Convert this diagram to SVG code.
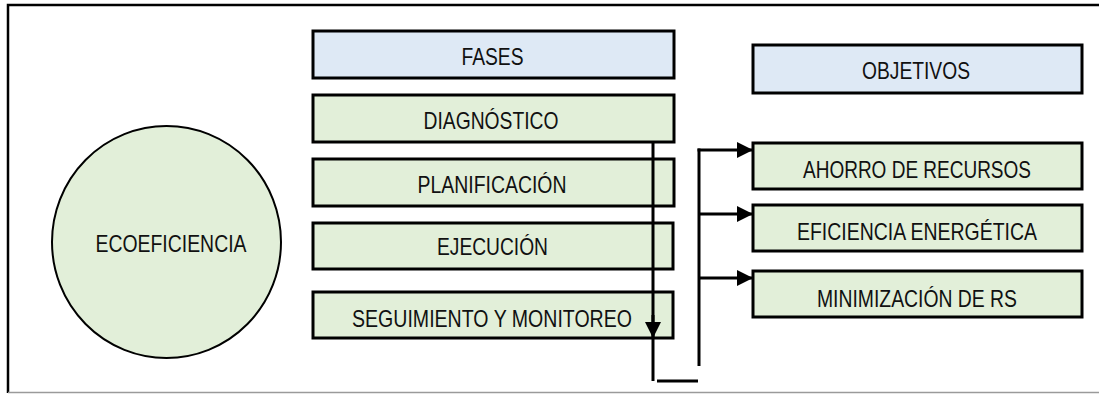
<svg xmlns="http://www.w3.org/2000/svg" width="1099" height="394" viewBox="0 0 1099 394">
<style>
.hdr{fill:#DEE9F5;stroke:#000;stroke-width:3}
.box{fill:#E2EFD9;stroke:#000;stroke-width:3}
.lbl{font-family:"Liberation Sans Narrow","Liberation Sans",Arial,sans-serif;font-size:24px;fill:#111;text-anchor:middle}
.con{fill:none;stroke:#000;stroke-width:3;stroke-linecap:butt}
</style>
<defs>
<marker id="ah" markerUnits="userSpaceOnUse" markerWidth="17" markerHeight="17" refX="16" refY="8" orient="auto">
<path d="M0,0 L16,8 L0,16 z" fill="#000"/>
</marker>
</defs>
<rect width="1099" height="394" fill="#fff"/>
<g id="frame">
<path d="M8,393 V5 H1099" fill="none" stroke="#000" stroke-width="2.5"/>
<path d="M8,392.5 H1099" fill="none" stroke="#9a9a9a" stroke-width="1.5"/>
</g>
<g id="ecoeficiencia">
<ellipse cx="166.5" cy="242" rx="114.5" ry="116" fill="#E2EFD9" stroke="#000" stroke-width="2"/>
<text class="lbl" x="171" y="252" textLength="151" lengthAdjust="spacingAndGlyphs">ECOEFICIENCIA</text>
</g>
<g id="fases">
<rect class="hdr" x="313" y="31" width="361" height="47"/>
<text class="lbl" x="492.5" y="65" textLength="62" lengthAdjust="spacingAndGlyphs">FASES</text>
</g>
<g id="diagnostico">
<rect class="box" x="313" y="95" width="361" height="47"/>
<text class="lbl" x="491" y="129" textLength="135" lengthAdjust="spacingAndGlyphs">DIAGNÓSTICO</text>
</g>
<g id="planificacion">
<rect class="box" x="313" y="159" width="361" height="47"/>
<text class="lbl" x="492" y="193" textLength="149" lengthAdjust="spacingAndGlyphs">PLANIFICACIÓN</text>
</g>
<g id="ejecucion">
<rect class="box" x="313" y="223" width="360" height="46"/>
<text class="lbl" x="492.5" y="255" textLength="111" lengthAdjust="spacingAndGlyphs">EJECUCIÓN</text>
</g>
<g id="seguimiento">
<rect class="box" x="313" y="292" width="360" height="46"/>
<text class="lbl" x="492" y="327" textLength="280" lengthAdjust="spacingAndGlyphs">SEGUIMIENTO Y MONITOREO</text>
</g>
<g id="objetivos">
<rect class="hdr" x="753" y="45" width="329" height="48"/>
<text class="lbl" x="916" y="79" textLength="108" lengthAdjust="spacingAndGlyphs">OBJETIVOS</text>
</g>
<g id="ahorro">
<rect class="box" x="753" y="143" width="329" height="46"/>
<text class="lbl" x="917" y="178" textLength="228" lengthAdjust="spacingAndGlyphs">AHORRO DE RECURSOS</text>
</g>
<g id="eficiencia">
<rect class="box" x="753" y="205" width="329" height="46"/>
<text class="lbl" x="917" y="240" textLength="240" lengthAdjust="spacingAndGlyphs">EFICIENCIA ENERGÉTICA</text>
</g>
<g id="minimizacion">
<rect class="box" x="753" y="271" width="329" height="46"/>
<text class="lbl" x="917" y="307" textLength="200" lengthAdjust="spacingAndGlyphs">MINIMIZACIÓN DE RS</text>
</g>
<g id="connectors">
<path class="con" d="M653,142 V381"/>
<path class="con" d="M653,315 V338" marker-end="url(#ah)"/>
<path class="con" d="M657,381 H698"/>
<path class="con" d="M699,148.5 V366"/>
<path class="con" d="M697.5,150 H753" marker-end="url(#ah)"/>
<path class="con" d="M699,214 H753" marker-end="url(#ah)"/>
<path class="con" d="M699,278 H753" marker-end="url(#ah)"/>
</g>
</svg>
